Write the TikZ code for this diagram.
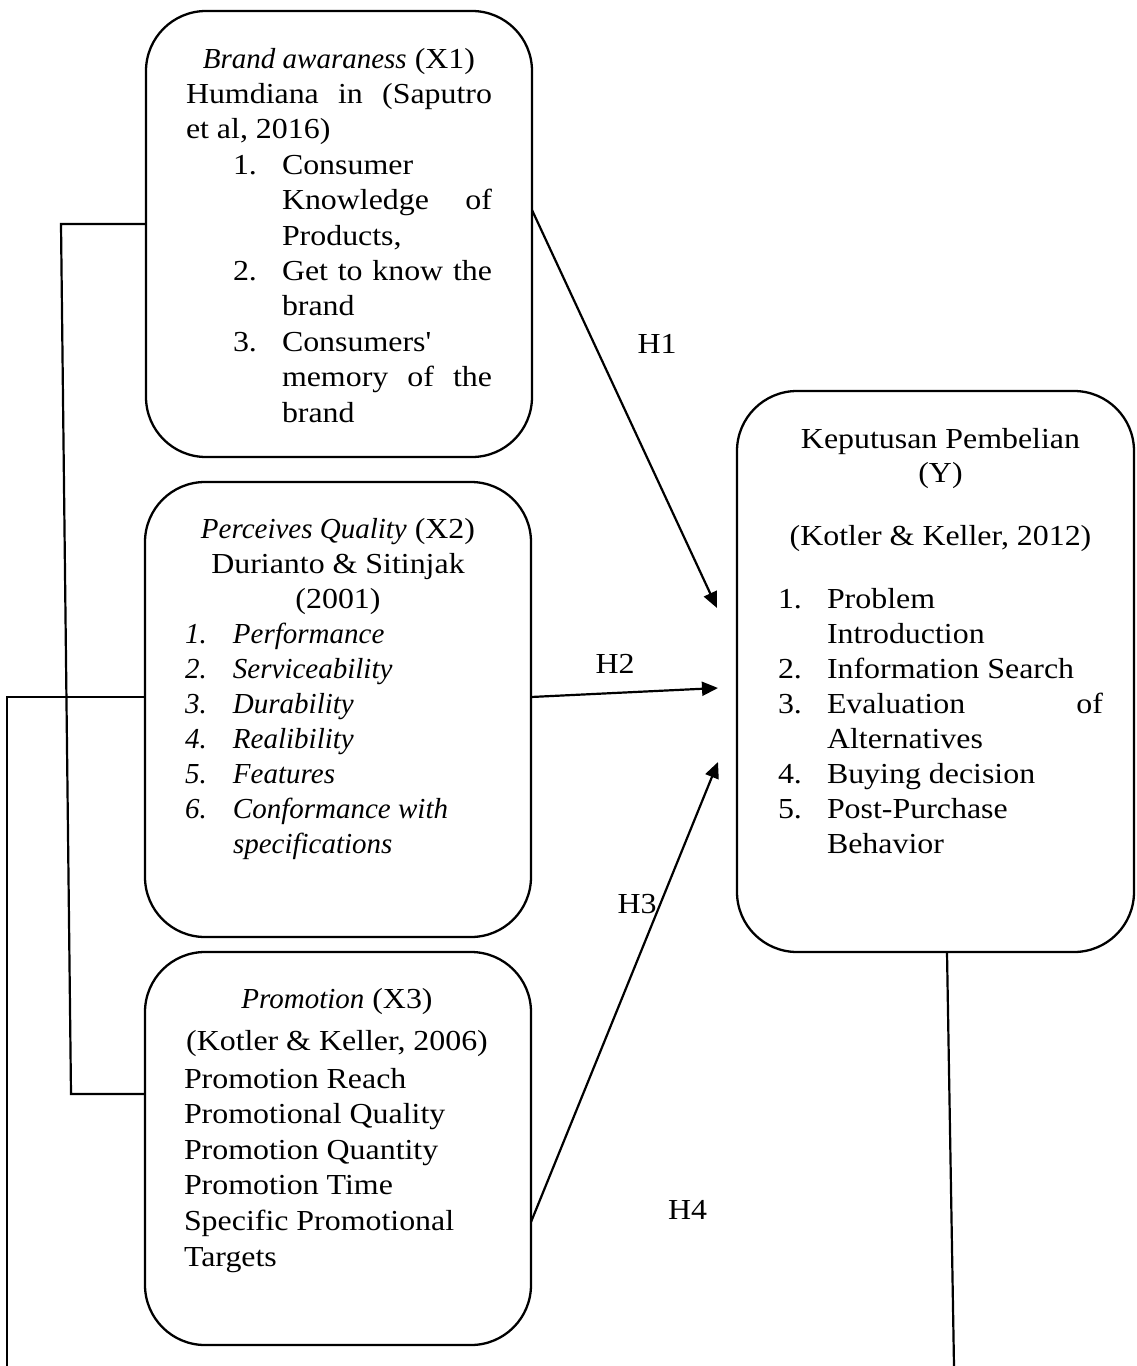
\documentclass[tikz,border=0pt]{standalone}
\usepackage{fontspec}
\setmainfont{Liberation Serif}[UprightFeatures={FakeStretch=1.1}]
\usetikzlibrary{arrows.meta}
\newcommand\rowx[1]{\hbox to\hsize{#1}}
\newcommand\numx[2]{\makebox[#1][l]{#2}}
\newcommand\blk[2]{\vtop{\hsize=#1\relax #2}}
\tikzset{
  box/.style={draw, line width=2.3pt, rounded corners=60pt, inner sep=0pt, outer sep=0pt},
  txt/.style={inner sep=0pt, outer sep=0pt, anchor=base west, font=\fontsize{29}{35.4}\selectfont},
  lbl/.style={inner sep=0pt, outer sep=0pt, anchor=base, font=\fontsize{29}{35}\selectfont},
  arr/.style={line width=2.2pt, -{Triangle[length=16pt,width=14pt]}},
  con/.style={line width=2.2pt},
}
\begin{document}
\begin{tikzpicture}[x=1pt,y=-1pt]
\useasboundingbox (0,0) rectangle (1136,1366);
% boxes
\node[box, minimum width=386pt, minimum height=446pt] (x1) at (339,234) {};
\node[box, minimum width=386pt, minimum height=455pt] (x2) at (338,709.5) {};
\node[box, minimum width=386pt, minimum height=393pt] (x3) at (338,1148.5) {};
\node[box, minimum width=397pt, minimum height=561pt] (y) at (935.5,671.5) {};
% X1 text
\node[txt] (x1t) at (186,68) {\blk{306pt}{%
\rowx{\hfil\textit{Brand awaraness} (X1)\hfil}%
\rowx{Humdiana\hfil in\hfil (Saputro}%
\rowx{et al, 2016)\hfil}%
\rowx{\numx{96pt}{\hspace*{47pt}1.}Consumer\hfil}%
\rowx{\hspace*{96pt}Knowledge\hfil of}%
\rowx{\hspace*{96pt}Products,\hfil}%
\rowx{\numx{96pt}{\hspace*{47pt}2.}Get to know the}%
\rowx{\hspace*{96pt}brand\hfil}%
\rowx{\numx{96pt}{\hspace*{47pt}3.}Consumers\textquotesingle\hfil}%
\rowx{\hspace*{96pt}memory\hfil of\hfil the}%
\rowx{\hspace*{96pt}brand\hfil}}};
% X2 text
\node[txt, font=\fontsize{29}{35.1}\selectfont] (x2t) at (185,538) {\blk{306pt}{%
\rowx{\hfil\textit{Perceives Quality} (X2)\hfil}%
\rowx{\hfil Durianto \& Sitinjak\hfil}%
\rowx{\hfil (2001)\hfil}%
\rowx{\numx{48pt}{\textit{1.}}\textit{Performance}\hfil}%
\rowx{\numx{48pt}{\textit{2.}}\textit{Serviceability}\hfil}%
\rowx{\numx{48pt}{\textit{3.}}\textit{Durability}\hfil}%
\rowx{\numx{48pt}{\textit{4.}}\textit{Realibility}\hfil}%
\rowx{\numx{48pt}{\textit{5.}}\textit{Features}\hfil}%
\rowx{\numx{48pt}{\textit{6.}}\textit{Conformance with}\hfil}%
\rowx{\hspace*{48pt}\textit{specifications}\hfil}}};
% X3 text
\node[txt] (x3a) at (184,1008) {\blk{306pt}{\rowx{\hfil\textit{Promotion} (X3)\hfil}}};
\node[txt] (x3b) at (184,1050) {\blk{306pt}{\rowx{\hfil (Kotler \& Keller, 2006)\hfil}}};
\node[txt, font=\fontsize{29}{35.6}\selectfont] (x3c) at (184,1088) {\blk{306pt}{%
\rowx{Promotion Reach\hfil}%
\rowx{Promotional Quality\hfil}%
\rowx{Promotion Quantity\hfil}%
\rowx{Promotion Time\hfil}%
\rowx{Specific Promotional\hfil}%
\rowx{Targets\hfil}}};
% Y text
\node[txt, font=\fontsize{29}{34}\selectfont] (ya) at (778,448) {\blk{325pt}{%
\rowx{\hfil Keputusan Pembelian\hfil}%
\rowx{\hfil (Y)\hfil}}};
\node[txt] (yb) at (778,545) {\blk{325pt}{\rowx{\hfil (Kotler \& Keller, 2012)\hfil}}};
\node[txt, font=\fontsize{29}{35.1}\selectfont] (yc) at (778,608) {\blk{325pt}{%
\rowx{\numx{49pt}{1.}Problem\hfil}%
\rowx{\hspace*{49pt}Introduction\hfil}%
\rowx{\numx{49pt}{2.}Information Search\hfil}%
\rowx{\numx{49pt}{3.}Evaluation\hfil of}%
\rowx{\hspace*{49pt}Alternatives\hfil}%
\rowx{\numx{49pt}{4.}Buying decision\hfil}%
\rowx{\numx{49pt}{5.}Post-Purchase\hfil}%
\rowx{\hspace*{49pt}Behavior\hfil}}};
% labels
\node[lbl] (h1) at (657,353) {H1};
\node[lbl] (h2) at (615,673) {H2};
\node[lbl] (h3) at (637,913) {H3};
\node[lbl] (h4) at (687.5,1219) {H4};
% free ends
\coordinate (t1) at (717,608);
\coordinate (t2) at (718,688);
\coordinate (t3) at (718,762);
\coordinate (c1) at (61,224);
\coordinate (c2) at (71,1094);
\coordinate (c3) at (7,697);
\coordinate (c4) at (7,1366);
\coordinate (c5) at (954,1366);
% arrows
\draw[arr] ([yshift=24pt]x1.east) -- (t1);
\draw[arr] ([yshift=12.5pt]x2.east) -- (t2);
\draw[arr] ([yshift=-73.5pt]x3.east) -- (t3);
% connectors
\draw[con] ([yshift=10pt]x1.west) -- (c1) -- (c2) -- ([yshift=54.5pt]x3.west);
\draw[con] ([yshift=12.5pt]x2.west) -- (c3) -- (c4);
\draw[con] ([xshift=11.5pt]y.south) -- (c5);
\end{tikzpicture}
\end{document}
